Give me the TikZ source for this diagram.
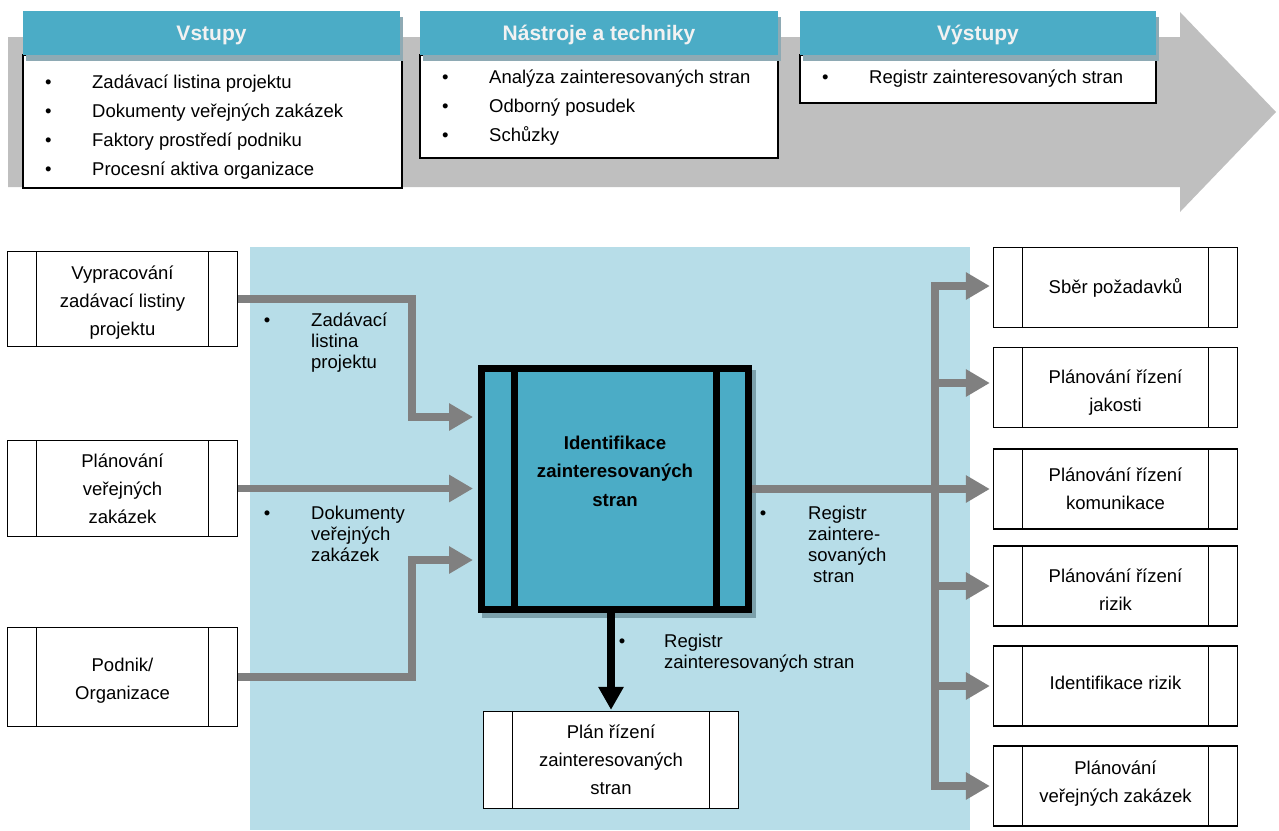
\documentclass[tikz,border=0pt]{standalone}
\usepackage{fontspec}
\setmainfont{Liberation Sans}
\usetikzlibrary{arrows.meta}

\definecolor{hdrteal}{HTML}{4BACC6}
\definecolor{paleblue}{HTML}{B7DDE8}
\definecolor{hdrshadow}{HTML}{8EAAB4}
\definecolor{boxshadow}{HTML}{7BA0AB}
\definecolor{bandgray}{HTML}{BFBFBF}
\definecolor{wiregray}{HTML}{808080}
\definecolor{hdrtext}{HTML}{F2F2F2}

% multi-line text whose baseline is the first line
\newcommand{\rows}[1]{\begin{tabular}[t]{@{}l@{}}#1\end{tabular}}
\newcommand{\ctrrows}[1]{\begin{tabular}[t]{@{}c@{}}#1\end{tabular}}
\newcommand{\bul}{\makebox[47pt][l]{•}}
% invisible struts to fine-tune the vertical placement of box texts
\newcommand{\uph}[1]{\rule{0pt}{#1}}
\newcommand{\dph}[1]{\rule[-#1]{0pt}{0pt}}

\tikzset{
  header/.style={fill=hdrteal, text=hdrtext, inner sep=0pt, text depth=0pt,
    font=\bfseries\fontsize{21}{25}\selectfont},
  panel/.style={draw=black, line width=1.3pt, fill=white},
  listtext/.style={inner sep=0pt, anchor=base west,
    font=\fontsize{18.5}{29}\selectfont},
  lbltext/.style={inner sep=0pt, anchor=base west,
    font=\fontsize{18.5}{21.3}\selectfont},
  bulletmark/.style={inner sep=0pt, anchor=base,
    font=\fontsize{18.5}{21}\selectfont},
  proc/.style={draw=black, line width=1.3pt, fill=white, align=center,
    inner sep=0pt, font=\fontsize{18.5}{28}\selectfont,
    path picture={
      \draw[line width=1.3pt]
        ([xshift=29pt]path picture bounding box.north west) --
        ([xshift=29pt]path picture bounding box.south west);
      \draw[line width=1.3pt]
        ([xshift=-29pt]path picture bounding box.north east) --
        ([xshift=-29pt]path picture bounding box.south east);
    }},
  leftproc/.style={proc, minimum width=230, minimum height=95},
  rightproc/.style={proc, minimum width=244, minimum height=80},
  mainproc/.style={draw=black, line width=7pt, fill=hdrteal,
    minimum width=267, minimum height=241, inner sep=0pt,
    path picture={
      \draw[line width=7pt]
        ([xshift=32.5pt]path picture bounding box.north west) --
        ([xshift=32.5pt]path picture bounding box.south west);
      \draw[line width=7pt]
        ([xshift=-32.5pt]path picture bounding box.north east) --
        ([xshift=-32.5pt]path picture bounding box.south east);
    }},
  garrow/.style={draw=wiregray, line width=7.5pt,
    -{Triangle[length=24pt,width=26pt]}},
  barrow/.style={draw=black, line width=8pt,
    -{Triangle[length=23pt,width=24pt]}},
}

\begin{document}
\begin{tikzpicture}[x=1pt,y=-1pt]
\useasboundingbox (0,0) rectangle (1279,830);

% process band
\fill[bandgray] (8,37) -- (1180,37) -- (1180,12) -- (1276,112)
  -- (1180,212) -- (1180,187) -- (8,187) -- cycle;

% inputs panel
\draw[panel] (23,55) rectangle (402,188);
\fill[hdrshadow] (26,17) rectangle (403,61);
\node[header, minimum width=377, minimum height=44] (hin) at (211.5,33) {Vstupy};
\node[listtext] (lin) at (45,88) {\rows{\bul Zadávací listina projektu\\
  \bul Dokumenty veřejných zakázek\\
  \bul Faktory prostředí podniku\\
  \bul Procesní aktiva organizace}};

% tools panel
\draw[panel] (420,55) rectangle (778,158);
\fill[hdrshadow] (423,17) rectangle (781,61);
\node[header, minimum width=358, minimum height=44] (htool) at (599,33) {Nástroje a techniky};
\node[listtext] (ltool) at (442,83) {\rows{\bul Analýza zainteresovaných stran\\
  \bul Odborný posudek\\
  \bul Schůzky}};

% outputs panel
\draw[panel] (800,55) rectangle (1156,103);
\fill[hdrshadow] (803,17) rectangle (1159,61);
\node[header, minimum width=356, minimum height=44] (hout) at (978,33) {Výstupy};
\node[listtext] (lout) at (822,83) {\rows{\bul Registr zainteresovaných stran}};

% process area
\fill[paleblue] (250,247) rectangle (970,830);

% central process
\fill[boxshadow] (482,370) rectangle (756,618);
\node[mainproc] (id) at (615,489) {};
\node[inner sep=0pt, anchor=base, font=\bfseries\fontsize{18.6}{28.5}\selectfont]
  (idtext) at (615,449) {\ctrrows{Identifikace\\zainteresovaných\\stran}};

% neighbouring processes
\node[leftproc] (b1) at (122.5,299) {\uph{20pt}Vypracování\\zadávací listiny\\projektu};
\node[leftproc, minimum height=96] (b2) at (122.5,488.5) {Plánování\\veřejných\\zakázek};
\node[leftproc, minimum height=99] (b3) at (122.5,677) {\uph{21.5pt}Podnik/\\Organizace};

\node[rightproc] (r1) at (1115.5,287.5) {Sběr požadavků};
\node[rightproc] (r2) at (1115.5,387.5) {\uph{23pt}Plánování řízení\\jakosti};
\node[rightproc] (r3) at (1115.5,489) {Plánování řízení\\komunikace};
\node[rightproc] (r4) at (1115.5,586) {\uph{20pt}Plánování řízení\\rizik};
\node[rightproc] (r5) at (1115.5,686) {Identifikace rizik\dph{7pt}};
\node[rightproc] (r6) at (1115.5,786) {Plánování\\veřejných zakázek\dph{8pt}};

\node[proc, minimum width=255, minimum height=97] (plan) at (611,760)
  {Plán řízení\\zainteresovaných\\stran};

% inputs
\coordinate (in1) at (0,417);
\coordinate (in3) at (0,560);
\draw[garrow, shorten >=5pt] (b1.east) -| (412,417) -- (id.west |- in1);
\draw[garrow, shorten >=5pt] (b2.east) -- (b2.east -| id.west);
\draw[garrow, shorten >=5pt] (b3.east) -| (412,560) -- (id.west |- in3);

% outputs
\coordinate (bus) at (935,0);
\draw[garrow, shorten >=3pt] (id.east) -- (r3.west);
\draw[garrow, shorten >=3pt] (935,786) |- ([yshift=1.5pt]r1.west);
\draw[garrow, shorten >=3pt] (935,288) |- (r6.west);
\draw[garrow, shorten >=3pt] ([yshift=4.5pt]r2.west -| bus) -- ([yshift=4.5pt]r2.west);
\draw[garrow, shorten >=3pt] (r4.west -| bus) -- (r4.west);
\draw[garrow, shorten >=3pt] (r5.west -| bus) -- (r5.west);

\draw[barrow, shorten >=1pt] (plan.north |- id.south) -- (plan.north);

% flow labels
\node[bulletmark] (l1b) at (267,326) {•};
\node[lbltext] (l1) at (311,326) {\rows{Zadávací\\listina\\projektu}};
\node[bulletmark] (l2b) at (267,519) {•};
\node[lbltext] (l2) at (311,519) {\rows{Dokumenty\\veřejných\\zakázek}};
\node[bulletmark] (l3b) at (763,519) {•};
\node[lbltext] (l3) at (808,519) {\rows{Registr\\zaintere-\\sovaných\\\hspace{5pt}stran}};
\node[bulletmark] (l4b) at (622,647) {•};
\node[lbltext] (l4) at (664,647) {\rows{Registr\\zainteresovaných stran}};

\end{tikzpicture}
\end{document}
